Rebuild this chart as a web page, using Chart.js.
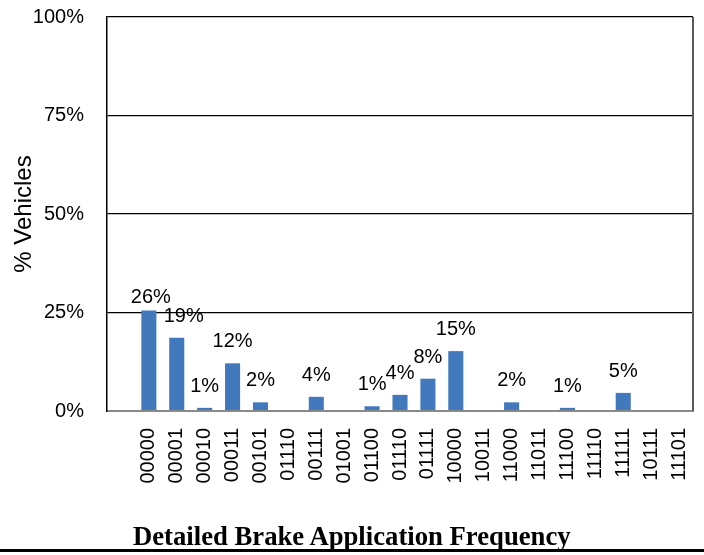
<!DOCTYPE html>
<html>
<head>
<meta charset="utf-8">
<script src="https://cdn.jsdelivr.net/npm/chart.js@4/dist/chart.umd.min.js"></script>
<style>
    html, body {
        margin: 0;
        padding: 0;
        background: #fff;
    }
    #wrap {
        position: relative;
        width: 704px;
        height: 555px;
        overflow: hidden;
    }
    #caption {
        position: absolute;
        left: 133px;
        top: 521px;
        font-family: 'Liberation Serif', 'Times New Roman', serif;
        font-weight: bold;
        font-size: 26.7px;
        line-height: 30px;
        color: #000;
        white-space: nowrap;
    }
    #rule {
        position: absolute;
        left: 0;
        top: 549px;
        width: 704px;
        height: 3px;
        background: #000;
    }
</style>
</head>
<body>
<div id="wrap">
    <canvas id="brake-chart" width="704" height="555"></canvas>
    <div id="caption">Detailed Brake Application Frequency</div>
    <div id="rule"></div>
</div>
<script>
// first category is left blank in the original sheet
const patterns = [
    '',
    '00000',
    '00001',
    '00010',
    '00011',
    '00101',
    '01110',
    '00111',
    '01001',
    '01100',
    '01110',
    '01111',
    '10000',
    '10011',
    '11000',
    '11011',
    '11100',
    '11110',
    '11111',
    '10111',
    '11101',
];
const vehicleShare = [
    null, 25.5, 18.6, 0.8, 12.1, 2.2, 0, 3.6, 0, 1.2, 4.1, 8.2, 15.2, 0, 2.2,
    0, 0.8, 0, 4.6, 0, 0,
];
const yTicks = [0, 25, 50, 75, 100];

const barBlue = '#4279bd';
const axisFont = {family: "'Liberation Sans', Arial, sans-serif", size: 20};

// a couple of labels were nudged by hand in the original
const labelNudge = {1: [2, 8], 2: [7, 0]};

const valueLabels = {
    id: 'valueLabels',
    afterDatasetsDraw(chart) {
        const ctx = chart.ctx;
        const meta = chart.getDatasetMeta(0);
        ctx.save();
        ctx.font = "20px 'Liberation Sans', Arial, sans-serif";
        ctx.fillStyle = '#000';
        ctx.textAlign = 'center';
        ctx.textBaseline = 'alphabetic';
        meta.data.forEach((bar, i) => {
            const v = vehicleShare[i];
            if (!v) {
                return;
            }
            const nudge = labelNudge[i] || [0, 0];
            ctx.fillText(`${Math.round(v)}%`, bar.x + nudge[0], bar.y - 16 + nudge[1]);
        });
        ctx.restore();
    },
};

const frameEdges = {
    id: 'frameEdges',
    afterDraw(chart) {
        const {ctx, chartArea} = chart;
        ctx.save();
        ctx.strokeStyle = '#5a5a5a';
        ctx.lineWidth = 2;
        ctx.beginPath();
        ctx.moveTo(chartArea.right, chartArea.top);
        ctx.lineTo(chartArea.right, chartArea.bottom);
        ctx.stroke();
        ctx.restore();
    },
};

function buildChart() {
    const ctx = document.getElementById('brake-chart').getContext('2d');
    return new Chart(ctx, {
        type: 'bar',
        data: {
            labels: patterns,
            datasets: [
                {
                    label: '% Vehicles',
                    data: vehicleShare,
                    backgroundColor: barBlue,
                    borderWidth: 0,
                    categoryPercentage: 1,
                    barPercentage: 0.54,
                },
            ],
        },
        options: {
            responsive: false,
            animation: false,
            layout: {
                padding: {top: 17, right: 11, left: 0, bottom: 0},
            },
            plugins: {
                legend: {display: false},
                tooltip: {enabled: false},
            },
            scales: {
                x: {
                    grid: {display: false, drawTicks: false},
                    border: {display: true, color: '#898989', width: 2},
                    ticks: {
                        color: '#000',
                        font: axisFont,
                        minRotation: 90,
                        maxRotation: 90,
                        padding: 17,
                        autoSkip: false,
                    },
                    afterFit(scale) {
                        scale.height = 144;
                        scale.paddingLeft = 0;
                        scale.paddingRight = 0;
                    },
                },
                y: {
                    min: 0,
                    max: 100,
                    afterBuildTicks(scale) {
                        scale.ticks = yTicks.map((value) => ({value}));
                    },
                    grid: {
                        drawTicks: false,
                        color: (c) => (c.tick && c.tick.value === 0 ? '#898989' : '#000'),
                        lineWidth: (c) => (c.tick && c.tick.value === 0 ? 2 : 1.3),
                    },
                    border: {display: true, color: '#000', width: 1.5},
                    ticks: {
                        color: '#000',
                        font: axisFont,
                        padding: 23,
                        callback(value) {
                            return `${value}%`;
                        },
                    },
                    title: {
                        display: true,
                        text: '% Vehicles',
                        color: '#000',
                        font: {family: "'Liberation Sans', Arial, sans-serif", size: 24},
                        padding: {top: 10, bottom: 0},
                    },
                    afterFit(scale) {
                        scale.width = 107;
                        scale.paddingTop = 0;
                        scale.paddingBottom = 0;
                    },
                },
            },
        },
        plugins: [valueLabels, frameEdges],
    });
}

buildChart();
</script>
</body>
</html>
